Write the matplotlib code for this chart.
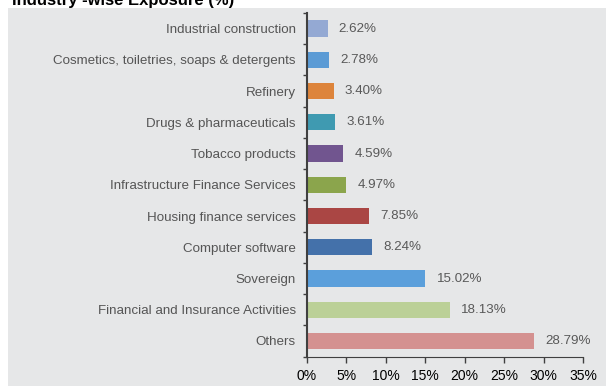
import matplotlib
matplotlib.use("Agg")
import matplotlib.pyplot as plt
from matplotlib.patches import Rectangle
from matplotlib.ticker import FuncFormatter

plt.rcParams['font.family'] = ['Liberation Sans', 'DejaVu Sans']

sectors = [
    "Industrial construction",
    "Cosmetics, toiletries, soaps & detergents",
    "Refinery",
    "Drugs & pharmaceuticals",
    "Tobacco products",
    "Infrastructure Finance Services",
    "Housing finance services",
    "Computer software",
    "Sovereign",
    "Financial and Insurance Activities",
    "Others",
]
exposure = [2.62, 2.78, 3.40, 3.61, 4.59, 4.97, 7.85, 8.24, 15.02, 18.13, 28.79]
bar_colors = ["#94a9d3", "#5b9bd5", "#dd843b", "#3f9ab1", "#71558f",
              "#8ba54c", "#aa4644", "#4471aa", "#5b9fdb", "#bbd097", "#d49190"]
x_ticks = [0, 5, 10, 15, 20, 25, 30, 35]


def main():
    fig = plt.figure(figsize=(6.06, 3.86), dpi=100)
    # grey panel behind the plot
    fig.patches.append(Rectangle((8 / 606, 0), 1, 1 - 8 / 386,
                                 transform=fig.transFigure,
                                 facecolor="#e6e7e8", edgecolor="none", zorder=-1))
    fig.text(12 / 606, 1 - 5 / 386, "Industry -wise Exposure (%)",
             fontsize=12, fontweight="bold", va="baseline", ha="left")

    ax = fig.add_axes([307 / 606, 29.4 / 386, 276 / 606, 343.6 / 386])
    ax.set_facecolor("none")
    pos = list(range(len(sectors)))
    ax.barh(pos, exposure, height=0.52, color=bar_colors)
    for p, v in zip(pos, exposure):
        ax.annotate(f"{v:.2f}%", (v, p), xytext=(8, 0), textcoords="offset points",
                    va="center", ha="left", fontsize=9.6, color="#595959")

    ax.set_ylim(len(sectors) - 0.5, -0.5)
    ax.set_xlim(0, 35)
    ax.set_yticks(pos)
    ax.set_yticklabels(sectors, fontsize=9.6, color="#555555")
    ax.set_yticks([p + 0.5 for p in range(-1, len(sectors))], minor=True)
    ax.tick_params(axis="y", which="major", length=0, pad=8)
    ax.tick_params(axis="y", which="minor", length=3, width=1, color="#404040")
    ax.set_xticks(x_ticks)
    ax.xaxis.set_major_formatter(FuncFormatter(lambda v, _: f"{v:.0f}%"))
    ax.tick_params(axis="x", length=4, width=1, color="#404040",
                   labelsize=10, labelcolor="black", pad=5)
    for side in ["top", "right"]:
        ax.spines[side].set_visible(False)
    ax.spines["left"].set_color("#404040")
    ax.spines["left"].set_linewidth(1.5)
    ax.spines["bottom"].set_color("#404040")

    fig.savefig("out.png", dpi=100)


if __name__ == "__main__":
    main()
